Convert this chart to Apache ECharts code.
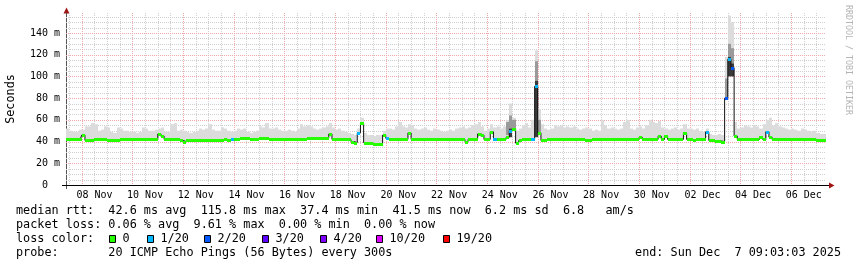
<!DOCTYPE html>
<html><head><meta charset="utf-8">
<script src="https://cdn.jsdelivr.net/npm/echarts@6/dist/echarts.min.js"></script>
<style>html,body{margin:0;padding:0;background:#fff}#c{width:857px;height:267px}</style>
</head><body><div id="c"></div>
<script>
// time axis in hours since 07 Nov 2025 00:00
const startHour = 9.05;          // 07 Nov 09:03
const endHour = 729.05;          // 07 Dec 09:03
const binHours = 3;
const firstBinStart = 9;
const yMax = 158.4;

// tick labels (centred at noon of every second day)
const dayLabels = ['08 Nov','10 Nov','12 Nov','14 Nov','16 Nov','18 Nov','20 Nov','22 Nov','24 Nov','26 Nov','28 Nov','30 Nov','02 Dec','04 Dec','06 Dec'];
const firstLabelHour = 36;
const labelStepHours = 48;
const yTickValues = [0,20,40,60,80,100,120,140];

// median rtt per 3-hour bin (ms)
const medianRtt = [
42,42,42,42,42,46,41,41,
41,42,42,42,42,41,41,41,
41,42,42,42,42,42,42,42,
42,42,42,42,42,47,45,42,
42,42,42,42,41,40,41,41,
41,41,41,41,41,41,41,41,
41,41,42,41,42,42,42,43,
43,43,42,42,42,43,43,43,
42,42,42,42,42,42,42,42,
42,42,42,42,43,43,43,43,
43,43,43,47,42,42,42,42,
42,42,40,39,48,57,39,38.5,
38.5,38,37.4,38,46,43,42,42,
42,42,42,42,48,42,42,42,
42,42,42,42,42,42,42,42,
42,42,42,42,42,42,40,42,
42,42,47,46,42,42,49,42,
42,42,42,44,50,52,38.5,41,
42,42,42,42,91,48,41,41,
42,42,42,42,42,42,42,42,
42,42,42,42,41,41,42,42,
42,42,42,42,42,42,42,42,
42,42,42,42,42,44,42,42,
42,42,42,45,42,45,42,42,
42,42,42,48,42,42,41,42,
42,42,49,41,41,40.5,40.5,40,
80,115.8,108,45,42,42,42,42,
42,42,42,44,42,49,44,42,
42,42,42,42,42,42,42,42,
42,42,42,42,42,41.5,41.5,41.5
];

// top of the smoke (max ping) per bin (ms)
const smokeMax = [
52,50,49,49,51,51,54,54,
57,56,50,51,54,53,49,48,
53,52,50,50,49,49,48,49,
53,52,50,50,51,52,53,49,
49,56,57,50,51,50,49,48,
49,50,52,51,52,56,51,50,
50,53,52,50,49,50,52,51,
52,49,48,49,50,54,53,57,
52,52,53,51,50,50,51,50,
49,52,56,54,55,54,52,51,
52,53,54,57,53,51,52,50,
49,48,47,46,52,62,48,46,
46,45,46,46,50,52,52,51,
54,58,54,53,56,55,52,51,
52,53,51,50,52,51,50,49,
50,51,50,52,53,54,52,53,
55,56,58,54,50,52,56,53,
54,52,54,60,75,62,50,52,
55,57,53,60,124,70,56,52,
51,52,55,54,55,53,54,53,
54,52,51,52,53,52,50,51,
50,60,55,52,53,52,51,52,
58,60,52,51,53,54,52,55,
60,58,57,59,53,52,51,52,
53,51,52,56,52,52,51,52,
50,49,52,47,46,46,47,46,
118,156,150,58,52,53,55,54,
53,55,54,52,56,60,62,55,
57,54,53,52,51,52,51,50,
52,51,50,49,50,48,47,47
];

// denser smoke around spikes: [bin, low ms, high ms]
const midSmoke = [[139,46,58],[140,52,64],[141,50,60],[148,96,114],[149,46,60],[208,80,98],[209,118,130],[210,112,126]];
const darkSmoke = [[140,44,52],[148,44,96],[209,100,118],[210,100,112]];

// lost pings per bin: [bin, lost of 20]
const lossPoints = [[52,1],[92,1],[101,1],[135,1],[140,1],[147,1],[148,1],[202,1],[208,2],[209,1],[210,2],[221,1]];

// loss colour legend
const lossLevels = [0,1,2,3,4,10,19];
const lossLabels = ['0','1/20','2/20','3/20','4/20','10/20','19/20'];
const lossColors = ['#26ff00','#00b8ff','#0059ff','#5e00ff','#7e00ff','#dd00ff','#ff0000'];

const statsLines = [
  'median rtt:  42.6 ms avg  115.8 ms max  37.4 ms min  41.5 ms now  6.2 ms sd  6.8   am/s',
  'packet loss: 0.06 % avg  9.61 % max  0.00 % min  0.00 % now'
];
const lossTitle = 'loss color:';
const probeLine = 'probe:       20 ICMP Echo Pings (56 Bytes) every 300s';
const endLine = 'end: Sun Dec  7 09:03:03 2025';

// ---------------------------------------------------------------
const binCenter = i => firstBinStart + binHours * i + binHours / 2;
const lossMap = {};
lossPoints.forEach(p => { lossMap[p[0]] = p[1]; });
function lossColor(n) {
  let c = lossColors[0];
  for (let k = 0; k < lossLevels.length; k++) if (n >= lossLevels[k]) c = lossColors[k];
  return c;
}
const labelHours = dayLabels.map((_, k) => firstLabelHour + k * labelStepHours);
const vMajor = [], vMinor = [];
for (let h = 12; h < endHour; h += 12) {
  if (h <= startHour) continue;
  if ((h - 24) % 48 === 0) vMajor.push(h); else vMinor.push(h);
}
const hMajor = [], hMinor = [];
for (let v = 5; v < yMax; v += 5) { if (v % 20 === 0) hMajor.push(v); else hMinor.push(v); }

function gridSeries(values, horizontal, color) {
  return {
    type: 'custom', silent: true, z: 1, clip: false,
    data: values.map(v => horizontal ? [startHour, v] : [v, 0]),
    renderItem(params, api) {
      const cs = params.coordSys;
      const p = api.coord([api.value(0), api.value(1)]);
      let shape;
      if (horizontal) { const y = Math.round(p[1]) + 0.5; shape = {x1: cs.x, y1: y, x2: cs.x + cs.width, y2: y}; }
      else { const x = Math.round(p[0]) + 0.5; shape = {x1: x, y1: cs.y, x2: x, y2: cs.y + cs.height}; }
      return {type: 'line', shape, style: {stroke: color, lineWidth: 1, lineDash: [1, 1]}};
    }
  };
}
// a vertical band per bin, from low to high value
function bandSeries(items, color, z) {
  return {
    type: 'custom', silent: true, z,
    data: items,
    renderItem(params, api) {
      const c = api.value(0);
      const p1 = api.coord([c - binHours / 2, api.value(2)]);
      const p2 = api.coord([c + binHours / 2, api.value(1)]);
      const x1 = Math.round(p1[0]), x2 = Math.round(p2[0]);
      return {type: 'rect', shape: {x: x1, y: p1[1], width: x2 - x1, height: p2[1] - p1[1]}, style: {fill: color}};
    }
  };
}

const mono = '"DejaVu Sans Mono", monospace';
const legendFont = '11.8px ' + mono;
const graphic = [];
graphic.push({type: 'text', x: 16, y: 210.8, style: {text: statsLines[0], font: legendFont, fill: '#000', verticalAlign: 'middle'}});
graphic.push({type: 'text', x: 16, y: 224.8, style: {text: statsLines[1], font: legendFont, fill: '#000', verticalAlign: 'middle'}});
graphic.push({type: 'text', x: 16, y: 238.8, style: {text: lossTitle, font: legendFont, fill: '#000', verticalAlign: 'middle'}});
const boxX = [109, 147, 204, 262, 320, 376, 443];
lossLabels.forEach((lab, k) => {
  graphic.push({type: 'rect', shape: {x: boxX[k] + 0.5, y: 235.5, width: 6, height: 7}, style: {fill: lossColors[k], stroke: '#000', lineWidth: 1}});
  graphic.push({type: 'text', x: boxX[k] + 13.5, y: 238.8, style: {text: lab, font: legendFont, fill: '#000', verticalAlign: 'middle'}});
});
graphic.push({type: 'text', x: 16, y: 252.6, style: {text: probeLine, font: legendFont, fill: '#000', verticalAlign: 'middle'}});
graphic.push({type: 'text', x: 841, y: 252.6, style: {text: endLine, font: legendFont, fill: '#000', align: 'right', verticalAlign: 'middle'}});
graphic.push({type: 'text', x: 11, y: 99, rotation: Math.PI / 2, style: {text: 'Seconds', font: legendFont, fill: '#000', align: 'center', verticalAlign: 'middle'}});
graphic.push({type: 'text', x: 848.5, y: 60, rotation: -Math.PI / 2, style: {text: 'RRDTOOL / TOBI OETIKER', font: '8.3px ' + mono, fill: '#b4b4b4', align: 'center', verticalAlign: 'middle'}});
// axis extensions and arrows
graphic.push({type: 'line', shape: {x1: 62, y1: 185.5, x2: 66, y2: 185.5}, style: {stroke: '#000', lineWidth: 1}});
graphic.push({type: 'line', shape: {x1: 826, y1: 185.5, x2: 830, y2: 185.5}, style: {stroke: '#000', lineWidth: 1}});
graphic.push({type: 'line', shape: {x1: 66.5, y1: 185, x2: 66.5, y2: 189}, style: {stroke: '#555', lineWidth: 1}});
graphic.push({type: 'polygon', shape: {points: [[829, 182.5], [834.5, 185.5], [829, 188.5]]}, style: {fill: '#a01414'}});
graphic.push({type: 'polygon', shape: {points: [[63.5, 13.5], [66.5, 7.5], [69.5, 13.5]]}, style: {fill: '#a01414'}});

const chart = echarts.init(document.getElementById('c'), null, {renderer: 'canvas'});
chart.setOption({
  animation: false,
  backgroundColor: '#fff',
  grid: {left: 66, right: 31, top: 13, bottom: 82, containLabel: false},
  xAxis: {
    type: 'value', min: startHour, max: endHour,
    axisLine: {show: true, lineStyle: {color: '#000', width: 1}},
    axisTick: {show: false}, splitLine: {show: false},
    axisLabel: {
      customValues: labelHours,
      formatter: v => dayLabels[Math.round((v - firstLabelHour) / labelStepHours)] || '',
      fontFamily: mono, fontSize: 10, color: '#000', margin: 5, lineHeight: 10
    }
  },
  yAxis: {
    type: 'value', min: 0, max: yMax, interval: 20,
    axisLine: {show: true, lineStyle: {color: '#555', width: 1}},
    axisTick: {show: false}, splitLine: {show: false},
    axisLabel: {
      showMaxLabel: false, margin: 6, fontFamily: mono, fontSize: 10, color: '#000',
      formatter: v => yTickValues.indexOf(v) < 0 ? '' : (v === 0 ? '{z|0}' : v + ' m'),
      rich: {z: {fontFamily: mono, fontSize: 10, color: '#000', padding: [0, 12, 0, 0]}}
    }
  },
  graphic,
  series: [
    gridSeries(vMinor, false, '#d0d0d0'),
    gridSeries(hMinor, true, '#d0d0d0'),
    gridSeries(vMajor, false, '#eeaaaa'),
    gridSeries(hMajor, true, '#eeaaaa'),
    bandSeries(medianRtt.map((v, i) => [binCenter(i), v - 1, smokeMax[i]]), '#dcdcdc', 3),
    bandSeries(midSmoke.map(b => [binCenter(b[0]), b[1], b[2]]), '#9a9a9a', 4),
    bandSeries(darkSmoke.map(b => [binCenter(b[0]), b[1], b[2]]), '#3a3a3a', 4),
    {type: 'line', step: 'middle', symbol: 'none', silent: true, z: 5,
     lineStyle: {color: '#111', width: 1},
     data: medianRtt.map((v, i) => [binCenter(i), v])},
    {type: 'custom', silent: true, z: 6,
     data: medianRtt.map((v, i) => [binCenter(i), v, lossMap[i] || 0]),
     renderItem(params, api) {
       const c = api.value(0), v = api.value(1);
       const a = api.coord([c - binHours / 2, v]), b = api.coord([c + binHours / 2, v]);
       const x1 = Math.round(a[0]), x2 = Math.round(b[0]), y = Math.round(a[1]);
       return {type: 'rect', shape: {x: x1, y: y - 1, width: Math.max(1, x2 - x1), height: 3}, style: {fill: lossColor(api.value(2))}};
     }}
  ]
});
</script>
</body></html>
